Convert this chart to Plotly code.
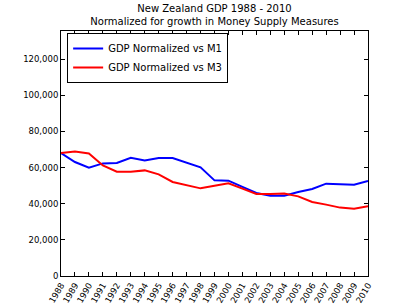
import plotly.graph_objects as go

years = list(range(1988, 2011))
gdp_m1 = [68070, 63090, 59950, 62320, 62540, 65470, 63990, 65300, 65300, 62870,
          60110, 52930, 52760, 49280, 45960, 44470, 44470, 46500, 48170, 51100,
          51000, 50550, 52590]
gdp_m3 = [68070, 68950, 67840, 61210, 57730, 57730, 58460, 56240, 52040, 50390,
          48510, 50000, 51270, 48340, 45410, 45410, 45600, 44090, 40990, 39500,
          37850, 37290, 38570]
series_names = ["GDP Normalized vs M1", "GDP Normalized vs M3"]
title_lines = ["New Zealand GDP 1988 - 2010", "Normalized for growth in Money Supply Measures"]

font = "DejaVu Sans"
fig = go.Figure()
fig.add_trace(go.Scatter(x=years, y=gdp_m1, mode="lines", name=series_names[0],
                         line=dict(color="#0000ff", width=2)))
fig.add_trace(go.Scatter(x=years, y=gdp_m3, mode="lines", name=series_names[1],
                         line=dict(color="#ff0000", width=2)))

axis_common = dict(showline=True, linecolor="black", linewidth=1, mirror="allticks",
                   ticks="inside", ticklen=4, tickcolor="black", showgrid=False,
                   zeroline=False, automargin=False,
                   tickfont=dict(family=font, size=8.5, color="black"))

fig.update_layout(
    width=409, height=307,
    margin=dict(l=61, r=41, t=31, b=31, autoexpand=False),
    paper_bgcolor="white", plot_bgcolor="white",
    title=dict(text="<br>".join(title_lines), x=0.5, xref="paper", xanchor="center",
               y=1 - 12 / 307, yref="container", yanchor="middle",
               font=dict(family=font, size=10, color="black")),
    showlegend=True,
    legend=dict(x=0.02, y=0.992, xanchor="left", yanchor="top",
                bordercolor="black", borderwidth=1, bgcolor="white",
                font=dict(family=font, size=10, color="black"),
                itemwidth=30, tracegroupgap=0),
    xaxis=dict(range=[1988, 2010], tickvals=years, ticktext=[str(y) for y in years],
               tickangle=-60, **axis_common),
    yaxis=dict(range=[0, 135600], tickvals=list(range(0, 140000, 20000)),
               tickformat=",d", **axis_common),
)
fig.write_html("out.html", config={"displayModeBar": False},
               post_script="document.body.style.margin='0';")
